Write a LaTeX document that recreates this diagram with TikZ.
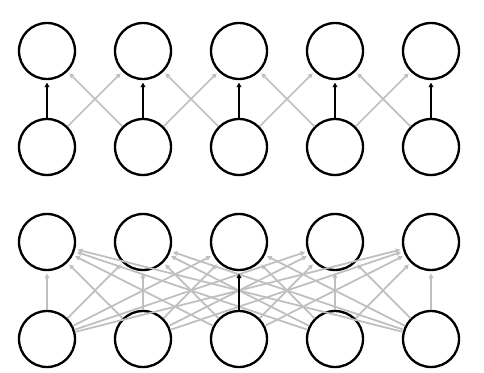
\documentclass[tikz,border=0pt]{standalone}
\usepackage{tikz}
\usetikzlibrary{arrows.meta}
\definecolor{lightline}{HTML}{BFBFBF}

\begin{document}
\begin{tikzpicture}[x=0.03cm, y=-0.03cm,
    unit/.style={draw=black, circle, line width=2pt, fill=white, minimum size=56*0.03cm, inner sep=0pt},
    weak/.style={draw=lightline, line width=1.5pt, -{Triangle[length=4pt,width=4pt]}, shorten >=2pt},
    strong/.style={draw=black, line width=1.8pt, -{Triangle[length=4pt,width=4pt]}, shorten >=2pt}]
    \useasboundingbox (0,0) rectangle (484,373);

    % Local connections
    \foreach \i in {1,...,5} {
        \node[unit] (uo\i) at (47+96*\i-96, 51) {};
        \node[unit] (ui\i) at (47+96*\i-96, 147) {};
    }
    \foreach \i/\j in {1/2, 2/1, 2/3, 3/2, 3/4, 4/3, 4/5, 5/4}
        \draw[weak] (ui\i) -- (uo\j);
    \foreach \i in {1,...,5}
        \draw[strong] (ui\i) -- (uo\i);

    % Full connections
    \foreach \i in {1,...,5} {
        \node[unit] (lo\i) at (47+96*\i-96, 242) {};
        \node[unit] (li\i) at (47+96*\i-96, 339) {};
    }
    \foreach \i in {1,...,5}
        \foreach \j in {1,...,5}
            \draw[weak] (li\i) -- (lo\j);
    \draw[strong] (li3) -- (lo3);
\end{tikzpicture}
\end{document}
